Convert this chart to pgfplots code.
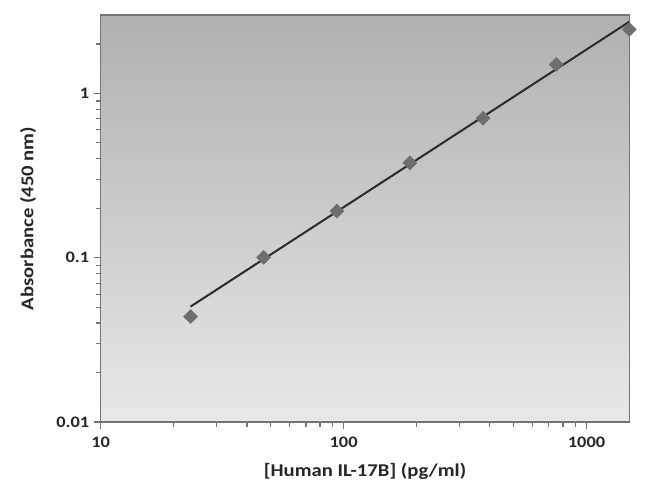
\documentclass[border=0pt]{standalone}
\usepackage{fontspec}
\setmainfont{Carlito}[FakeStretch=1.15]
\usepackage{pgfplots}
\pgfplotsset{compat=1.18}
\definecolor{bgtop}{HTML}{B0B0B0}
\definecolor{bgbot}{HTML}{E8E8E8}
\definecolor{mk}{HTML}{6E6E6E}
\definecolor{ln}{HTML}{2B2B2B}
\definecolor{ax}{HTML}{747474}
\begin{document}
\begin{tikzpicture}
\begin{axis}[
  at={(0pt,0pt)}, anchor=south west,
  scale only axis, width=528.6pt, height=407pt,
  xmode=log, ymode=log,
  xmin=10, xmax=1500, ymin=0.01, ymax=3,
  xtick={10,100,1000}, xticklabels={10,100,1000},
  ytick={0.01,0.1,1}, yticklabels={0.01,0.1,1},
  minor xtick={20,30,40,50,60,70,80,90,200,300,400,500,600,700,800,900},
  minor ytick={0.02,0.03,0.04,0.05,0.06,0.07,0.08,0.09,0.2,0.3,0.4,0.5,0.6,0.7,0.8,0.9,2},
  tick pos=left,
  tick align=outside, major tick length=7pt, minor tick length=5pt,
  axis line style={ax, line width=1.5pt},
  every tick/.style={ax, line width=1.2pt},
  axis background/.style={top color=bgtop, bottom color=bgbot},
  ticklabel style={font=\fontsize{16}{19}\selectfont\bfseries, text=black!85},
  xticklabel style={yshift=-4pt},
  yticklabel style={xshift=-1pt},
  /pgf/number format/assume math mode=true,
  xlabel={[Human IL-17B] (pg/ml)},
  ylabel={Absorbance (450 nm)},
  label style={font=\fontsize{18}{22}\selectfont\bfseries, text=black!85},
  xlabel style={at={(axis description cs:0.5,-0.1204)}, anchor=center},
  ylabel style={at={(axis description cs:-0.1376,0.5)}, anchor=center},
  clip=false,
]
\addplot[only marks, mark=square*, mark size=5pt, mark options={rotate=45, fill=mk, draw=mk}]
  coordinates {(23.44,0.0438) (46.88,0.1005) (93.75,0.192) (187.5,0.378) (375,0.705) (750,1.50) (1500,2.45)};
\addplot[ln, line width=2pt] coordinates {(23.44,0.0504) (1500,2.73)};
\end{axis}
\pgfresetboundingbox
\path[use as bounding box] (-100.7pt,-75pt) rectangle (549.3pt,422pt);
\end{tikzpicture}
\end{document}
